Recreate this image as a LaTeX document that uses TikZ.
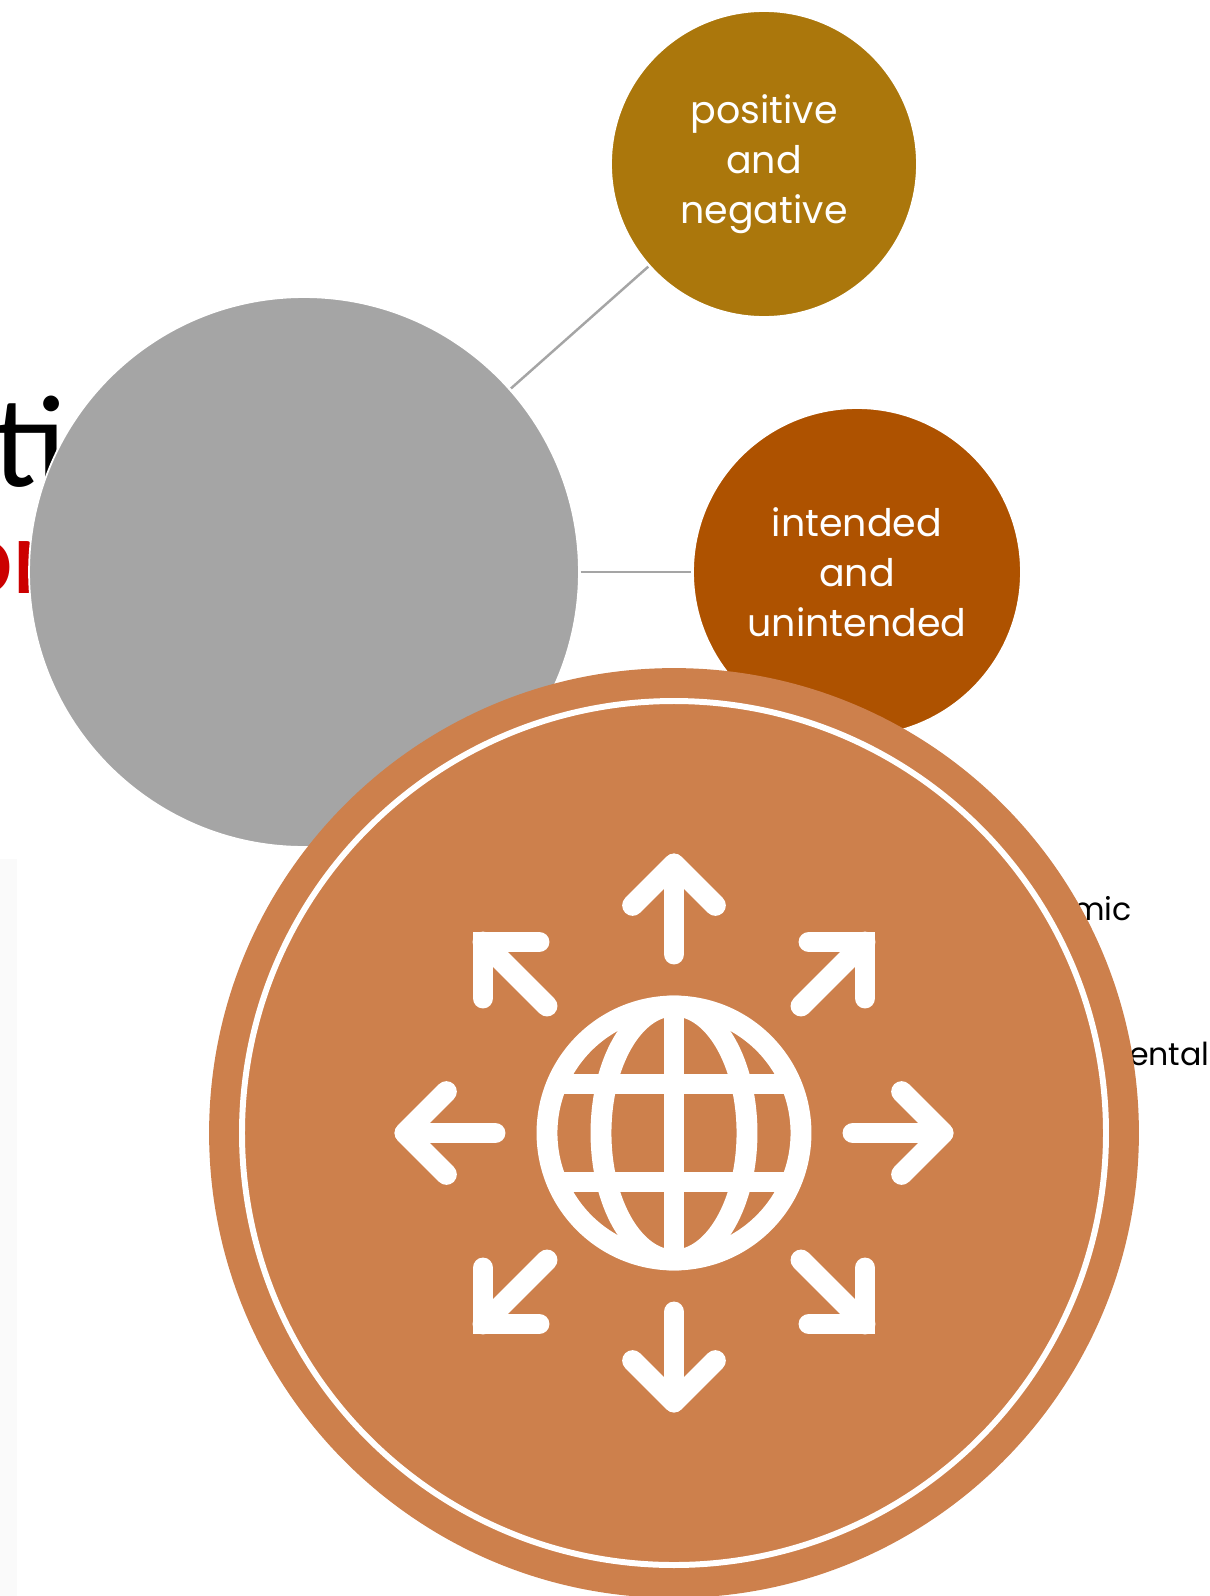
\documentclass[tikz,border=0pt]{standalone}
\usepackage{fontspec}
\setmainfont{Poppins}
\newfontfamily\headfont{Carlito}
\definecolor{goldbrown}{RGB}{171,119,12}
\definecolor{rust}{RGB}{174,82,0}
\definecolor{clay}{RGB}{205,128,76}
\definecolor{midgray}{RGB}{165,165,165}
\definecolor{headred}{RGB}{204,0,0}
\begin{document}
\begin{tikzpicture}[x=0.02cm, y=-0.02cm]
    \tikzset{
      bubble/.style={circle, draw=white, line width=1pt, text=white, align=center, inner sep=0pt, outer sep=1pt, font=\fontsize{21.6}{28.4}\selectfont},
      link/.style={draw=midgray, line width=1.4pt},
      sidetext/.style={anchor=base east, inner sep=0pt, text=black, font=\fontsize{18}{22}\selectfont},
      icon/.style={draw=white, line width=11.9pt, line cap=round, miter limit=4}
    }
    \useasboundingbox (0,0) rectangle (1210,1596);
    \fill[white] (0,0) rectangle (1210,1596);
    \fill[black!2] (0,859) rectangle (17,1596);

    \draw (-7,486) node (title) [anchor=base west, inner sep=0pt, font=\headfont\fontsize{74.5}{80}\selectfont] {ti};
    \draw (-45,593) node (subtitle) [anchor=base west, inner sep=0pt, text=headred, font=\headfont\bfseries\fontsize{61}{66}\selectfont] {or};

    \draw (304,572) node (hub) [bubble, fill=midgray, minimum size=11cm] {};
    \draw (764,164) node (signs) [bubble, fill=goldbrown, minimum size=6.12cm] {positive\\and\\negative};
    \draw (857,572) node (intent) [bubble, fill=rust, minimum size=6.56cm] {intended\\and\\unintended};
    \draw[link] (hub) -- (signs);
    \draw[link] (hub) -- (intent);

    \draw (1132,920) node (econ) [sidetext] {mic};
    \draw (1210,1065) node (envir) [sidetext] {ental};

    \draw (674,1133) node (badge) [circle, fill=clay, minimum size=18.6cm, inner sep=0pt] {};
    \draw[white, line width=3.4pt] (674,1133) circle [radius=432];

    % globe
    \begin{scope}[shift={(674,1133)}]
      \draw[icon] (0,0) circle [radius=127];
      \draw[icon] (0,0) ellipse [x radius=73, y radius=127];
      \draw[icon, line cap=butt] (0,-127) -- (0,127);
      \draw[icon, line cap=butt] (-117,-49) -- (117,-49);
      \draw[icon, line cap=butt] (-117,49) -- (117,49);
      \foreach \ang in {0,90,180,270} {
        \draw[icon, rotate=\ang, line join=round] (0,-179) -- (0,-269);
        \draw[icon, rotate=\ang, line join=round] (-41.4,-227.6) -- (0,-269) -- (41.4,-227.6);
        \draw[icon, rotate=\ang] (127,-127) -- (191,-191);
        \draw[icon, rotate=\ang] (135,-191) -- (191,-191) -- (191,-135);
      }
    \end{scope}
  \end{tikzpicture}
\end{document}
